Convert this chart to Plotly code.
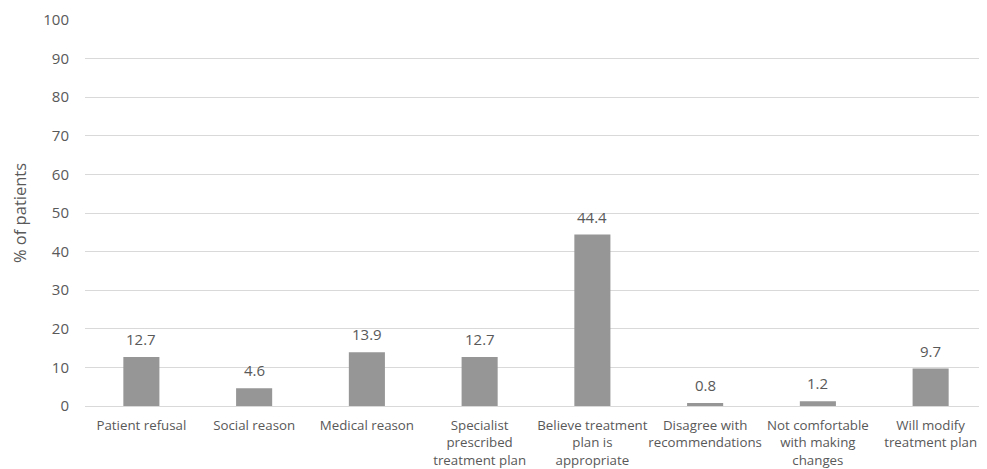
import plotly.graph_objects as go

categories = [
    "Patient refusal",
    "Social reason",
    "Medical reason",
    "Specialist<br>prescribed<br>treatment plan",
    "Believe treatment<br>plan is<br>appropriate",
    "Disagree with<br>recommendations",
    "Not comfortable<br>with making<br>changes",
    "Will modify<br>treatment plan",
]
values = [12.7, 4.6, 13.9, 12.7, 44.4, 0.8, 1.2, 9.7]
y_ticks = [0, 10, 20, 30, 40, 50, 60, 70, 80, 90, 100]

FONT = "Open Sans, Noto Sans, sans-serif"
TXT = "#595959"

fig = go.Figure(
    go.Bar(
        x=categories,
        y=values,
        marker=dict(color="#969696", line=dict(width=0)),
        cliponaxis=False,
    )
)

for c, v in zip(categories, values):
    fig.add_annotation(
        x=c, y=v, text=f"{v:.1f}", showarrow=False,
        yanchor="bottom", yshift=6,
        font=dict(family=FONT, size=15, color=TXT),
    )

# page body has an 8px default margin, so the figure is offset by 8px
fig.update_layout(
    width=979,
    height=461,
    margin=dict(l=77, r=0, t=12, b=63),
    paper_bgcolor="white",
    plot_bgcolor="white",
    bargap=0.68,
    showlegend=False,
    font=dict(family=FONT, color=TXT),
)
fig.update_xaxes(
    automargin=False,
    tickangle=0,
    tickfont=dict(family=FONT, size=13.3, color=TXT),
    showgrid=False,
    showline=True,
    linecolor="#d9d9d9",
    linewidth=1,
    ticks="",
    ticklabelstandoff=7,
)
fig.update_yaxes(
    automargin=False,
    range=[0, 100],
    tickvals=y_ticks,
    tickfont=dict(family=FONT, size=15, color=TXT),
    showgrid=True,
    gridcolor="#d9d9d9",
    gridwidth=1,
    zeroline=False,
    showline=False,
    ticklabelstandoff=15,
    title=dict(text="% of patients", font=dict(family=FONT, size=16.5, color=TXT), standoff=14),
)

fig.write_html("out.html")
